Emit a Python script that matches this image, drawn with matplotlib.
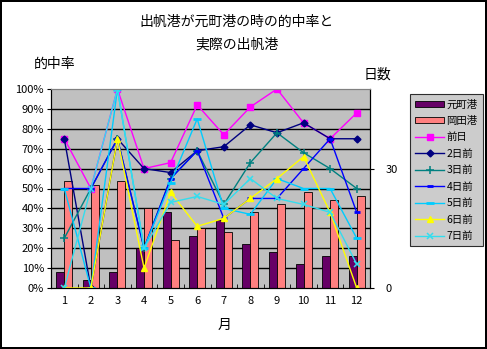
import numpy as np
import matplotlib.pyplot as plt
from matplotlib.patches import Patch
from matplotlib.lines import Line2D

plt.rcParams['font.family'] = ['Noto Sans CJK JP', 'DejaVu Sans']

# data
months = np.arange(1, 13)
motomachi = [4, 2, 4, 10, 19, 13, 17, 11, 9, 6, 8, 8]      # days
okada = [27, 26, 27, 20, 12, 15, 14, 19, 21, 24, 22, 23]   # days

day0 = [75, 50, 100, 60, 63, 92, 77, 91, 100, 83, 75, 88]
day2 = [75, 0, 75, 60, 58, 69, 71, 82, 78, 83, 75, 75]
day3 = [25, 50, 75, 20, 55, 69, 42, 63, 78, 68, 60, 50]
day4 = [50, 50, 75, 20, 55, 69, 35, 45, 45, 60, 75, 38]
day5 = [50, 0, 100, 20, 53, 85, 40, 37, 55, 50, 50, 25]
day6 = [0, 0, 75, 10, 48, 31, 35, 45, 55, 66, 38, 0]
day7 = [0, 50, 100, 20, 43, 46, 42, 55, 45, 42, 38, 12]

W, H = 487, 349
fig = plt.figure(figsize=(W / 100, H / 100), dpi=100)
fig.patch.set_edgecolor('black')
fig.patch.set_linewidth(1.5)

ax = fig.add_axes([51 / W, 1 - 288 / H, 319 / W, 199 / H])
ax.set_facecolor('#C0C0C0')

# bars on day axis
bw = 0.3
ax.bar(months - bw / 2, motomachi, bw, color='#660066', edgecolor='black', lw=0.6, zorder=2)
ax.bar(months + bw / 2, okada, bw, color='#FF8080', edgecolor='black', lw=0.6, zorder=2)
for g in np.arange(5, 50, 5):
    ax.axhline(g, color='black', lw=1, zorder=1)
ax.set_xlim(0.5, 12.5)
ax.set_ylim(0, 50)

# lines on percent axis
ax2 = ax.twinx()
ax2.set_ylim(0, 100)
ax2.plot(months, day0, color='#FF00FF', marker='s', ms=4.5, lw=1, label='前日')
ax2.plot(months, day2, color='#000080', marker='D', ms=3.5, lw=1, label='2日前')
ax2.plot(months, day3, color='#008080', marker='+', ms=6, mew=1.1, lw=1, label='3日前')
ax2.plot(months, day4, color='#0000FF', marker='_', ms=4, mew=2, lw=1, label='4日前')
ax2.plot(months, day5, color='#00CCFF', marker='_', ms=6, mew=2, lw=1, label='5日前')
ax2.plot(months, day6, color='#FFFF00', marker='^', ms=4.5, lw=1, label='6日前')
ax2.plot(months, day7, color='#33DDEE', marker='x', ms=4.5, mew=1.1, lw=1, label='7日前')

# axis sides: percent on left, days on right
ax2.yaxis.tick_left()
ax.yaxis.tick_right()
ax2.set_yticks(np.arange(0, 101, 10))
ax2.set_yticklabels([f'{v}%' for v in range(0, 101, 10)], fontsize=8)
ax.set_yticks([0, 30])
ax.set_yticklabels(['0', '30'], fontsize=8)
ax.tick_params(axis='y', length=3, pad=8)
ax2.tick_params(axis='y', length=3, pad=2)

ax.set_xticks(months)
ax.set_xticklabels([str(m) for m in months], fontsize=8)
ax.set_xticks(np.arange(0.5, 12.6, 1), minor=True)
ax.tick_params(axis='x', which='major', length=0, pad=6)
ax.tick_params(axis='x', which='minor', direction='in', length=3)

for a in (ax, ax2):
    a.spines['top'].set_color('#808080')
    a.spines['left'].set_color('black')
    a.spines['right'].set_color('black')
    a.spines['bottom'].set_color('black')

fig.text(237 / W, 1 - 22 / H, '出帆港が元町港の時の的中率と', ha='center', va='center', fontsize=10)
fig.text(237 / W, 1 - 44 / H, '実際の出帆港', ha='center', va='center', fontsize=10)
fig.text(55 / W, 1 - 64 / H, '的中率', ha='center', va='center', fontsize=10)
fig.text(377 / W, 1 - 75 / H, '日数', ha='center', va='center', fontsize=10)
fig.text(225 / W, 1 - 325 / H, '月', ha='center', va='center', fontsize=10)

handles = [Patch(facecolor='#660066', edgecolor='black', lw=0.6, label='元町港'),
           Patch(facecolor='#FF8080', edgecolor='black', lw=0.6, label='岡田港')]
handles += ax2.get_lines()
leg = fig.legend(handles=handles, loc='upper left', bbox_to_anchor=(410 / W, 1 - 94 / H),
                 fontsize=7.5, frameon=True, fancybox=False, borderaxespad=0,
                 handlelength=2.8, handleheight=0.5, labelspacing=0.62,
                 borderpad=0.5, handletextpad=0.2)
leg.get_frame().set_facecolor('#C0C0C0')
leg.get_frame().set_edgecolor('black')
leg.get_frame().set_linewidth(0.8)

fig.savefig('out.png', dpi=100, edgecolor=fig.get_edgecolor())
